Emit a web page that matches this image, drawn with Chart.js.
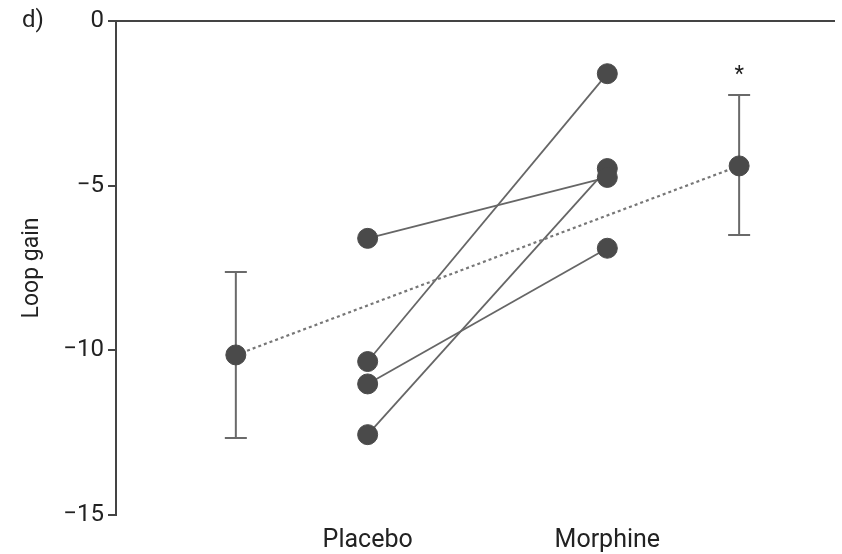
<!DOCTYPE html>
<html>
<head>
<meta charset="utf-8">
<script src="https://cdn.jsdelivr.net/npm/chart.js@4/dist/chart.umd.min.js"></script>
<style>
  body { margin: 0; background: #fff; }
</style>
</head>
<body>
<canvas id="chart" width="842" height="554"></canvas>
<script>
// categories on the x axis
const groups = ['Placebo', 'Morphine'];
const groupX = [1, 2];
const meanX = [0.45, 2.55];

// individual subjects (placebo -> morphine)
const placebo = [-6.60, -10.34, -11.02, -12.56];
const morphine = [-4.75, -1.60, -6.90, -4.48];

// group means with error bars
const meanValues = [-10.14, -4.40];
const errLow = [-12.66, -6.50];
const errHigh = [-7.62, -2.25];

const yTicks = [0, -5, -10, -15];

const ink = '#4a4a4a';
const lineGrey = '#666666';
const fontFamily = 'Roboto, "Liberation Sans", sans-serif';

const subjectSets = placebo.map((p, i) => ({
  data: [{ x: groupX[0], y: p }, { x: groupX[1], y: morphine[i] }],
  borderColor: lineGrey,
  borderWidth: 1.8,
  pointRadius: 10,
  pointBackgroundColor: ink,
  pointBorderColor: ink,
  pointBorderWidth: 1,
}));

const meanSet = {
  data: meanX.map((x, i) => ({ x: x, y: meanValues[i] })),
  borderColor: '#777777',
  borderWidth: 2.2,
  borderDash: [3, 3],
  pointRadius: 10,
  pointBackgroundColor: ink,
  pointBorderColor: ink,
  pointBorderWidth: 1,
};

// error bars + asterisk + panel letter
const extras = {
  id: 'extras',
  beforeDatasetsDraw(chart) {
    const { ctx, scales: { x, y } } = chart;
    ctx.save();
    ctx.strokeStyle = '#6a6a6a';
    ctx.lineWidth = 2;
    meanX.forEach((mx, i) => {
      const px = x.getPixelForValue(mx);
      const lo = y.getPixelForValue(errLow[i]);
      const hi = y.getPixelForValue(errHigh[i]);
      ctx.beginPath();
      ctx.moveTo(px, lo); ctx.lineTo(px, hi);
      ctx.moveTo(px - 11, lo); ctx.lineTo(px + 11, lo);
      ctx.moveTo(px - 11, hi); ctx.lineTo(px + 11, hi);
      ctx.stroke();
    });
    ctx.restore();
  },
  afterDraw(chart) {
    const { ctx, scales: { x, y } } = chart;
    ctx.save();
    ctx.fillStyle = '#222';
    ctx.font = '22px ' + fontFamily;
    ctx.textAlign = 'center';
    ctx.textBaseline = 'middle';
    ctx.fillText('*', x.getPixelForValue(meanX[1]), y.getPixelForValue(errHigh[1]) - 20);
    ctx.textAlign = 'left';
    ctx.font = '24px ' + fontFamily;
    ctx.fillText('d)', 22, 21);
    ctx.restore();
  }
};

new Chart(document.getElementById('chart'), {
  type: 'line',
  data: { datasets: [meanSet, ...subjectSets] },
  options: {
    responsive: false,
    animation: false,
    layout: { autoPadding: false, padding: { top: 21, right: 7, left: 0, bottom: 0 } },
    plugins: { legend: { display: false }, tooltip: { enabled: false } },
    scales: {
      x: {
        type: 'linear',
        min: -0.05,
        max: 2.95,
        afterBuildTicks: (scale) => { scale.ticks = groupX.map(v => ({ value: v })); },
        afterFit: (scale) => { scale.height = 39; },
        ticks: {
          padding: 11,
          color: '#222',
          font: { family: fontFamily, size: 25 },
          callback: (v) => groups[groupX.indexOf(v)],
        },
        grid: { display: false, drawTicks: false },
        border: { display: false },
      },
      y: {
        min: -15,
        max: 0,
        afterBuildTicks: (scale) => { scale.ticks = yTicks.map(v => ({ value: v })); },
        afterFit: (scale) => { scale.width = 116; },
        ticks: {
          padding: 4,
          color: '#222',
          font: { family: fontFamily, size: 24 },
          callback: (v) => (v < 0 ? '\u2212' + Math.abs(v) : String(v)),
        },
        grid: {
          color: (c) => (c.tick && c.tick.value === 0 ? '#444' : 'transparent'),
          lineWidth: 2,
          tickColor: '#444',
          tickLength: 8,
          tickWidth: 2,
        },
        border: { display: true, color: '#444', width: 2 },
        title: {
          display: true,
          text: 'Loop gain',
          color: '#222',
          font: { family: fontFamily, size: 23 },
          padding: { top: 18, bottom: 0 },
        },
      },
    },
  },
  plugins: [extras],
});
</script>
</body>
</html>
